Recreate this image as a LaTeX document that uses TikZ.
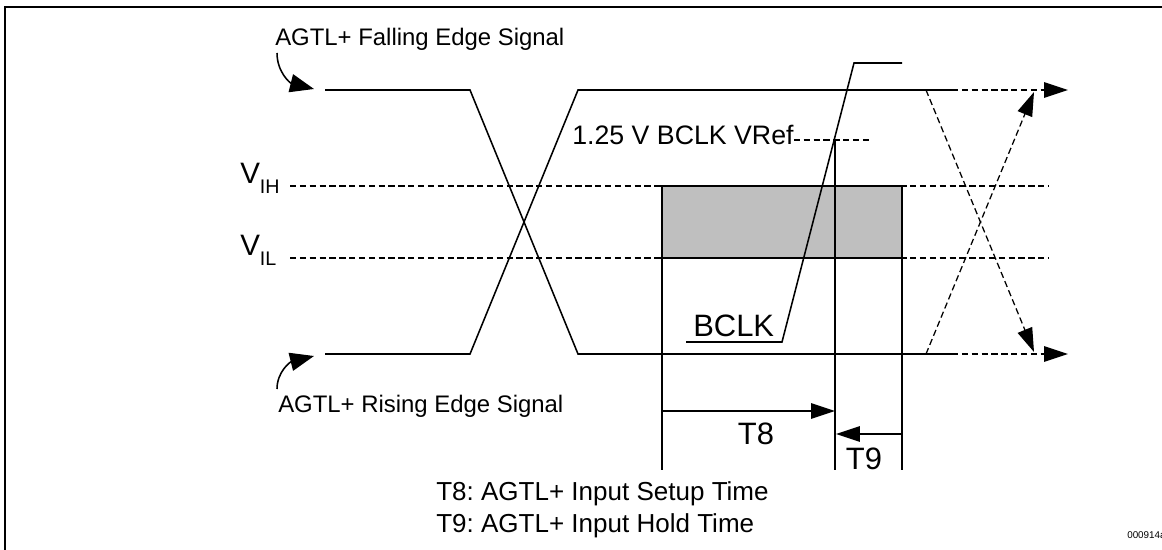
\documentclass[tikz,border=0pt]{standalone}
\usepackage{fontspec}
\setmainfont{Liberation Sans}
\usetikzlibrary{arrows.meta}
\frenchspacing

\begin{document}
\begin{tikzpicture}[x=0.025cm,y=-0.025cm,>={Triangle[length=17pt,width=11pt]},
 sig/.style={line width=1.1pt},
 lvl/.style={line width=0.9pt,dash pattern=on 4.5pt off 2.5pt},
 txt/.style={inner sep=0pt,anchor=base west,font=\fontsize{17}{20}\selectfont},
 bigtxt/.style={inner sep=0pt,font=\fontsize{22}{26}\selectfont}]
 \useasboundingbox (0,0) rectangle (1162,550);
 \draw[line width=1.8pt] (5,550) |- (1162,7);
 % threshold levels and setup/hold window
 \draw[lvl] (290,186) -- (1048,186);
 \draw[lvl] (290,258) -- (1048,258);
 \filldraw[fill=black!25,line width=1.1pt] (662,186) rectangle (902,258);
 \node[inner sep=0pt,anchor=base west,font=\fontsize{21}{24}\selectfont] (vih) at (240,184) {V\raisebox{-7pt}{\fontsize{14}{16}\selectfont IH}};
 \node[inner sep=0pt,anchor=base west,font=\fontsize{21}{24}\selectfont] (vil) at (240,256) {V\raisebox{-7pt}{\fontsize{14}{16}\selectfont IL}};
 % signals
 \coordinate (f0) at (325,90); \coordinate (f1) at (470,90);
 \coordinate (f2) at (578,354); \coordinate (f3) at (952,354);
 \coordinate (r0) at (325,354); \coordinate (r1) at (470,354);
 \coordinate (r2) at (578,90); \coordinate (r3) at (952,90);
 \draw[sig] (f0) -- (f1) -- (f2) -- (f3);
 \draw[sig] (r0) -- (r1) -- (r2) -- (r3);
 \coordinate (hi) at (1068,90); \coordinate (lo) at (1068,354);
 \draw[lvl,->] (r3) -- (hi);
 \draw[lvl,->] (f3) -- (lo);
 \coordinate (xa) at (926,90); \coordinate (xb) at (1034,352);
 \coordinate (xc) at (926,354); \coordinate (xd) at (1034,92);
 \draw[lvl,->] (xa) -- (xb);
 \draw[lvl,->] (xc) -- (xd);
 \node[txt] (fall) at (275,46) {AGTL+ Falling Edge Signal};
 \node[txt] (rise) at (278,412) {AGTL+ Rising Edge Signal};
 \coordinate (fallp) at (314,89); \coordinate (risep) at (314,356);
 \draw[line width=1.1pt,-{Triangle[length=17pt,width=13pt]}] (277,53) .. controls (277,72) and (290,83) .. (fallp);
 \draw[line width=1.1pt,-{Triangle[length=17pt,width=13pt]}] (277,389) .. controls (277,372) and (290,362) .. (risep);
 % clock
 \coordinate (c0) at (686,342); \coordinate (c1) at (782,342);
 \coordinate (c2) at (854,63); \coordinate (c3) at (902,63);
 \draw[sig] (c0) -- (c1) -- (c2) -- (c3);
 \node[bigtxt,anchor=base west] (bclk) at (693,336) {BCLK};
 \node[inner sep=0pt,anchor=base west,font=\fontsize{19}{22}\selectfont] (vref) at (572,145) {1.25 V BCLK VRef};
 \coordinate (vr) at (870,140);
 \draw[lvl] (vref.east|-vr) -- (vr);
 % timing markers
 \coordinate (m0) at (662,470); \coordinate (m1) at (835,470); \coordinate (m2) at (902,470);
 \draw[sig] (662,186) -- (m0);
 \draw[sig] (835,140) -- (m1);
 \draw[sig] (902,258) -- (m2);
 \coordinate (t8a) at (662,411); \coordinate (t8b) at (835,411);
 \coordinate (t9a) at (902,434); \coordinate (t9b) at (836,434);
 \draw[sig,->] (t8a) -- (t8b);
 \draw[sig,->] (t9a) -- (t9b);
 \node[bigtxt] (t8) at (756,434) {T8};
 \node[bigtxt] (t9) at (864,459) {T9};
 \node[txt,font=\fontsize{18.5}{22}\selectfont] (t8txt) at (436,500) {T8: AGTL+ Input Setup Time};
 \node[txt,font=\fontsize{18.5}{22}\selectfont] (t9txt) at (436,532) {T9: AGTL+ Input Hold Time};
 \node[inner sep=0pt,anchor=base west,font=\fontsize{7}{8}\selectfont] (fig) at (1127,538) {000914a};
\end{tikzpicture}
\end{document}
